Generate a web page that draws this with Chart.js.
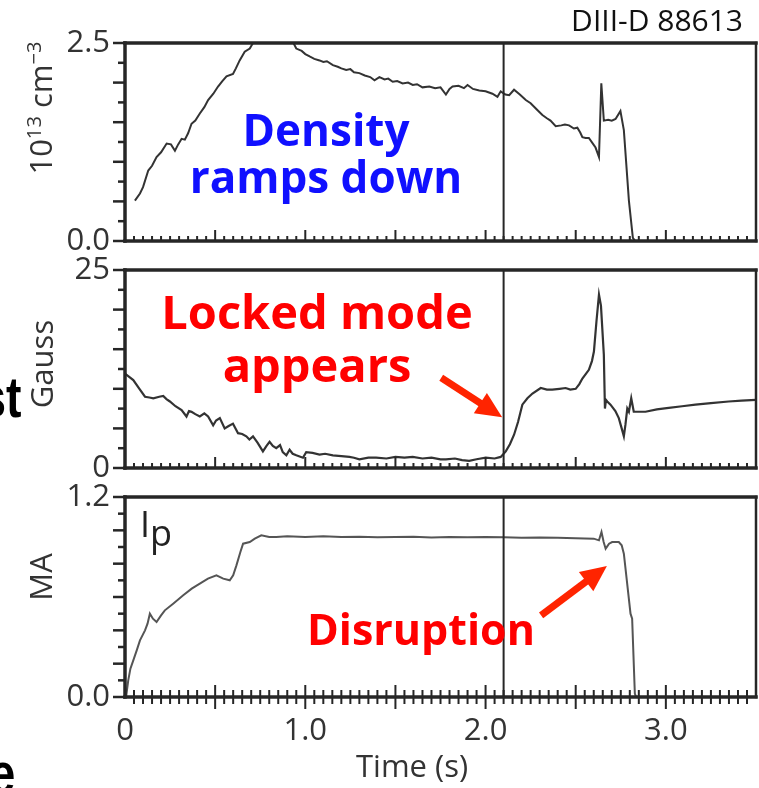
<!DOCTYPE html>
<html>
<head>
<meta charset="utf-8">
<script src="https://cdn.jsdelivr.net/npm/chart.js@4/dist/chart.umd.min.js"></script>
<style>
  body { margin: 0; background: #fff; width: 759px; height: 788px; overflow: hidden; position: relative; font-family: 'Open Sans', sans-serif; }
  canvas { position: absolute; left: 0; }
  .txt { position: absolute; white-space: nowrap; line-height: 1; }
  .rot { position: absolute; white-space: nowrap; font-size: 31px; height: 31px; line-height: 31px; color: #333; transform: translate(-50%, -50%) rotate(-90deg); }
  .rot span { position: relative; top: -0.55em; font-size: 0.65em; }
  .note { position: absolute; white-space: nowrap; font-weight: 700; text-align: center; transform: translateX(-50%); }
  .cut { position: absolute; white-space: nowrap; font-family: 'Liberation Sans', Arial, sans-serif; font-weight: 700; font-size: 58px; line-height: 1; text-align: right; color: #000; transform: scaleX(0.8); transform-origin: right center; }
</style>
</head>
<body>
<canvas id="densChart" width="759" height="265" style="top:0"></canvas>
<canvas id="gaussChart" width="759" height="235" style="top:250px"></canvas>
<canvas id="ipChart" width="759" height="308" style="top:480px"></canvas>

<div class="cut" style="right:737px;top:368px">st</div>
<div class="cut" style="right:744px;top:744px">e</div>

<div class="txt" style="right:16px;top:5px;font-size:30px;color:#111">DIII-D 88613</div>
<div class="rot" style="left:40px;top:108px">10<span>13</span> cm<span>−3</span></div>
<div class="rot" style="left:41px;top:364px">Gauss</div>
<div class="rot" style="left:40px;top:577px">MA</div>
<div class="txt" style="left:356px;top:750px;font-size:31px;color:#333">Time (s)</div>
<div class="txt" style="left:140px;top:506px;font-size:36px;color:#222">I<span style="position:relative;top:9px">p</span></div>

<div class="note" style="left:326px;top:106px;font-size:44px;line-height:47px;color:#1010ff">Density<br>ramps down</div>
<div class="note" style="left:317px;top:285px;font-size:47px;line-height:53px;color:#ff0000">Locked mode<br>appears</div>
<div class="note" style="left:421px;top:599px;font-size:43px;color:#ff0000">Disruption</div>

<script>
// --- DATA ---
const markerTime = 2.1;

const timeTicks = [0, 1, 2, 3];
const timeTickLabels = ['0', '1.0', '2.0', '3.0'];

const densTicks = [0, 2.5];
const densTickLabels = ['0.0', '2.5'];
const densTime = [0.055, 0.083, 0.10, 0.129, 0.15, 0.175, 0.20, 0.231, 0.255, 0.277, 0.295, 0.314, 0.332, 0.35, 0.369, 0.39, 0.415, 0.44, 0.461, 0.49, 0.516, 0.54, 0.563, 0.599, 0.615, 0.636, 0.664, 0.692, 0.71, 0.74, 0.80, 0.87, 0.93, 0.95, 0.98, 1.00, 1.024, 1.05, 1.079, 1.10, 1.12, 1.153, 1.18, 1.20, 1.227, 1.25, 1.27, 1.30, 1.33, 1.36, 1.384, 1.411, 1.44, 1.46, 1.485, 1.51, 1.54, 1.57, 1.596, 1.62, 1.65, 1.688, 1.72, 1.75, 1.78, 1.80, 1.817, 1.85, 1.88, 1.90, 1.93, 1.965, 2.00, 2.038, 2.066, 2.084, 2.11, 2.131, 2.158, 2.19, 2.223, 2.25, 2.28, 2.315, 2.34, 2.36, 2.389, 2.42, 2.44, 2.463, 2.49, 2.509, 2.525, 2.537, 2.555, 2.573, 2.595, 2.61, 2.629, 2.642, 2.656, 2.68, 2.70, 2.721, 2.748, 2.767, 2.795, 2.817, 2.83];
const densValue = [0.51, 0.60, 0.68, 0.89, 0.95, 1.06, 1.12, 1.23, 1.22, 1.14, 1.22, 1.29, 1.28, 1.36, 1.48, 1.52, 1.61, 1.69, 1.78, 1.86, 1.95, 2.02, 2.08, 2.11, 2.18, 2.28, 2.39, 2.43, 2.50, 2.56, 2.60, 2.58, 2.52, 2.43, 2.40, 2.36, 2.33, 2.30, 2.28, 2.26, 2.27, 2.22, 2.20, 2.18, 2.16, 2.17, 2.13, 2.12, 2.09, 2.07, 2.03, 2.07, 2.04, 2.05, 2.01, 2.02, 1.99, 2.00, 1.97, 1.98, 1.94, 1.95, 1.93, 1.94, 1.85, 1.92, 1.95, 1.96, 1.93, 1.97, 1.92, 1.90, 1.89, 1.86, 1.82, 1.89, 1.85, 1.84, 1.91, 1.85, 1.78, 1.74, 1.67, 1.59, 1.55, 1.52, 1.45, 1.46, 1.47, 1.46, 1.42, 1.43, 1.37, 1.31, 1.30, 1.30, 1.23, 1.18, 1.06, 1.99, 1.52, 1.53, 1.52, 1.54, 1.64, 1.40, 0.51, 0.04, 0.0];

const gaussTicks = [0, 25];
const gaussTickLabels = ['0', '25'];
const gaussTime = [0.0, 0.009, 0.046, 0.08, 0.111, 0.135, 0.157, 0.19, 0.212, 0.23, 0.249, 0.28, 0.314, 0.341, 0.355, 0.369, 0.39, 0.415, 0.44, 0.461, 0.489, 0.505, 0.526, 0.553, 0.575, 0.599, 0.627, 0.65, 0.673, 0.69, 0.71, 0.735, 0.765, 0.785, 0.802, 0.82, 0.839, 0.86, 0.875, 0.895, 0.913, 0.93, 0.95, 0.987, 1.005, 1.04, 1.079, 1.11, 1.153, 1.2, 1.245, 1.27, 1.30, 1.35, 1.393, 1.45, 1.5, 1.55, 1.596, 1.65, 1.7, 1.75, 1.78, 1.83, 1.87, 1.909, 1.95, 2.001, 2.05, 2.084, 2.112, 2.135, 2.158, 2.18, 2.204, 2.232, 2.26, 2.306, 2.34, 2.37, 2.41, 2.444, 2.47, 2.5, 2.52, 2.537, 2.573, 2.59, 2.601, 2.615, 2.629, 2.64, 2.656, 2.662, 2.668, 2.675, 2.693, 2.72, 2.739, 2.755, 2.767, 2.776, 2.786, 2.795, 2.808, 2.822, 2.85, 2.887, 2.95, 3.016, 3.09, 3.164, 3.25, 3.348, 3.42, 3.5];
const gaussValue = [11.9, 11.75, 11.1, 10.0, 9.0, 8.9, 8.8, 9.0, 9.1, 8.7, 8.4, 7.8, 7.3, 6.5, 7.2, 7.1, 6.8, 6.5, 6.9, 6.5, 5.4, 6.0, 6.3, 5.0, 5.3, 5.6, 4.4, 4.3, 4.0, 3.6, 4.0, 3.2, 2.1, 2.8, 3.3, 2.8, 2.5, 2.9, 2.0, 1.6, 2.3, 1.8, 1.6, 1.3, 2.0, 1.9, 1.7, 1.8, 1.6, 1.5, 1.4, 1.3, 1.1, 1.3, 1.3, 1.2, 1.4, 1.3, 1.4, 1.2, 1.3, 1.1, 1.1, 1.2, 1.0, 0.9, 1.1, 1.3, 1.2, 1.4, 2.1, 3.0, 4.2, 5.8, 8.0, 8.8, 9.4, 10.1, 9.9, 9.9, 10.0, 10.1, 9.9, 10.0, 10.6, 11.3, 12.4, 13.5, 14.7, 18.5, 21.9, 20.5, 14.3, 7.5, 8.6, 8.4, 8.0, 7.2, 6.3, 5.0, 4.0, 5.5, 7.5, 7.1, 8.8, 7.1, 7.1, 7.1, 7.4, 7.6, 7.8, 8.0, 8.2, 8.4, 8.5, 8.6];

const ipTicks = [0, 1.2];
const ipTickLabels = ['0.0', '1.2'];
const ipTime = [0.006, 0.018, 0.03, 0.046, 0.065, 0.083, 0.111, 0.125, 0.138, 0.155, 0.175, 0.2, 0.221, 0.267, 0.323, 0.37, 0.415, 0.46, 0.507, 0.545, 0.581, 0.60, 0.618, 0.64, 0.655, 0.692, 0.72, 0.756, 0.8, 0.839, 0.9, 1.0, 1.1, 1.2, 1.3, 1.4, 1.5, 1.6, 1.7, 1.8, 1.9, 2.0, 2.1, 2.2, 2.3, 2.4, 2.5, 2.6, 2.629, 2.643, 2.655, 2.666, 2.685, 2.702, 2.739, 2.755, 2.767, 2.804, 2.813, 2.828, 2.835];
const ipValue = [0.0, 0.10, 0.17, 0.22, 0.28, 0.34, 0.40, 0.44, 0.50, 0.47, 0.45, 0.49, 0.52, 0.56, 0.61, 0.65, 0.68, 0.71, 0.73, 0.71, 0.70, 0.73, 0.79, 0.87, 0.92, 0.93, 0.95, 0.97, 0.96, 0.96, 0.965, 0.96, 0.965, 0.96, 0.962, 0.958, 0.96, 0.962, 0.957, 0.96, 0.958, 0.96, 0.958, 0.955, 0.957, 0.955, 0.953, 0.95, 0.94, 0.99, 0.93, 0.89, 0.92, 0.93, 0.93, 0.91, 0.86, 0.50, 0.47, 0.02, 0.0];

// --- PLUGINS ---
Chart.defaults.font.family = "'Open Sans', sans-serif";

function seg(ctx, x1, y1, x2, y2) {
    ctx.beginPath();
    ctx.moveTo(x1, y1);
    ctx.lineTo(x2, y2);
    ctx.stroke();
}

function noPad(s) {
    s.paddingTop = 0; s.paddingBottom = 0;
    s.paddingLeft = 0; s.paddingRight = 0;
}

// frame, tick marks and the 2.1 s marker line
const framePlugin = {
    id: 'frame',
    afterDraw(chart, args, opts) {
        const { ctx, chartArea: a, scales: { x, y } } = chart;
        ctx.save();
        ctx.strokeStyle = '#262626';

        ctx.lineWidth = 2;
        const mx = x.getPixelForValue(markerTime);
        seg(ctx, mx, a.top, mx, a.bottom);

        // left axis ticks, pointing out
        ctx.lineWidth = 2.5;
        const ny = Math.round((y.max - y.min) / opts.yStep);
        for (let i = 0; i <= ny; i++) {
            const py = y.getPixelForValue(y.min + i * opts.yStep);
            const len = i % 2 === 0 ? 12 : 7;
            seg(ctx, a.left - len, py, a.left, py);
        }

        // bottom ticks every 0.05 s, longer every 0.5 s
        ctx.lineWidth = 2;
        const nx = Math.round((x.max - x.min) / 0.05);
        for (let i = 1; i < nx; i++) {
            const px = x.getPixelForValue(i * 0.05);
            const major = i % 10 === 0;
            if (opts.cross) {
                const len = major ? 12 : 7;
                seg(ctx, px, a.bottom - len, px, a.bottom + len);
            } else {
                const len = major ? 11 : 5;
                seg(ctx, px, a.bottom - len, px, a.bottom);
            }
        }

        // box
        ctx.lineWidth = 3.5;
        ctx.lineCap = 'square';
        seg(ctx, a.left, a.top, a.right, a.top);
        seg(ctx, a.left, a.top, a.left, a.bottom);
        seg(ctx, a.left, a.bottom, a.right, a.bottom);
        ctx.lineWidth = 2.5;
        seg(ctx, a.right, a.top, a.right, a.bottom);
        ctx.restore();
    }
};

const arrowPlugin = {
    id: 'arrows',
    afterDraw(chart, args, opts) {
        if (!opts.list) return;
        const { ctx, scales: { x, y } } = chart;
        ctx.save();
        ctx.fillStyle = '#ff2400';
        ctx.strokeStyle = '#ff2400';
        opts.list.forEach(ar => {
            const x1 = x.getPixelForValue(ar.from[0]), y1 = y.getPixelForValue(ar.from[1]);
            const x2 = x.getPixelForValue(ar.to[0]), y2 = y.getPixelForValue(ar.to[1]);
            const ang = Math.atan2(y2 - y1, x2 - x1);
            const head = 26, half = 12;
            const bx = x2 - head * Math.cos(ang), by = y2 - head * Math.sin(ang);
            ctx.lineWidth = 7;
            seg(ctx, x1, y1, bx + 2 * Math.cos(ang), by + 2 * Math.sin(ang));
            ctx.beginPath();
            ctx.moveTo(x2, y2);
            ctx.lineTo(bx + half * Math.sin(ang), by - half * Math.cos(ang));
            ctx.lineTo(bx - half * Math.sin(ang), by + half * Math.cos(ang));
            ctx.closePath();
            ctx.fill();
        });
        ctx.restore();
    }
};

// --- PANELS ---
function makePanel(id, times, values, yTicks, yLabels, cfg) {
    const points = times.map((t, i) => ({ x: t, y: values[i] }));
    return new Chart(document.getElementById(id), {
        type: 'line',
        data: {
            datasets: [{
                data: points,
                borderColor: cfg.color,
                borderWidth: cfg.width,
                pointRadius: 0,
                tension: 0
            }]
        },
        options: {
            responsive: false,
            animation: false,
            layout: { padding: { top: cfg.top, bottom: cfg.bottom, right: 3, left: 0 } },
            plugins: {
                legend: { display: false },
                tooltip: { enabled: false },
                frame: { yStep: cfg.yStep, cross: cfg.showX },
                arrows: { list: cfg.arrows }
            },
            scales: {
                x: {
                    type: 'linear', min: 0, max: 3.5,
                    display: cfg.showX,
                    grid: { display: false, drawTicks: false },
                    border: { display: false },
                    afterFit: s => { noPad(s); if (cfg.showX) s.height = 91; },
                    afterBuildTicks: s => { s.ticks = timeTicks.map(v => ({ value: v })); },
                    ticks: {
                        padding: 16, color: '#333', font: { size: 31 },
                        maxRotation: 0, autoSkip: false,
                        callback: (v, i) => timeTickLabels[i]
                    }
                },
                y: {
                    type: 'linear', min: yTicks[0], max: yTicks[1],
                    grid: { display: false, drawTicks: false },
                    border: { display: false },
                    afterFit: s => { noPad(s); s.width = 125; },
                    afterBuildTicks: s => { s.ticks = yTicks.map(v => ({ value: v })); },
                    ticks: {
                        padding: 15, color: '#333', font: { size: 31 },
                        callback: (v, i) => yLabels[i]
                    }
                }
            }
        },
        plugins: [framePlugin, arrowPlugin]
    });
}

makePanel('densChart', densTime, densValue, densTicks, densTickLabels,
    { color: '#333', width: 2, top: 43, bottom: 24, yStep: 0.25, showX: false });

makePanel('gaussChart', gaussTime, gaussValue, gaussTicks, gaussTickLabels,
    { color: '#333', width: 2.2, top: 20, bottom: 17, yStep: 2.5, showX: false,
      arrows: [{ from: [1.754, 11.4], to: [2.092, 6.4] }] });

makePanel('ipChart', ipTime, ipValue, ipTicks, ipTickLabels,
    { color: '#555', width: 2, top: 17, bottom: 0, yStep: 0.1, showX: true,
      arrows: [{ from: [2.308, 0.49], to: [2.673, 0.786] }] });
</script>
</body>
</html>
